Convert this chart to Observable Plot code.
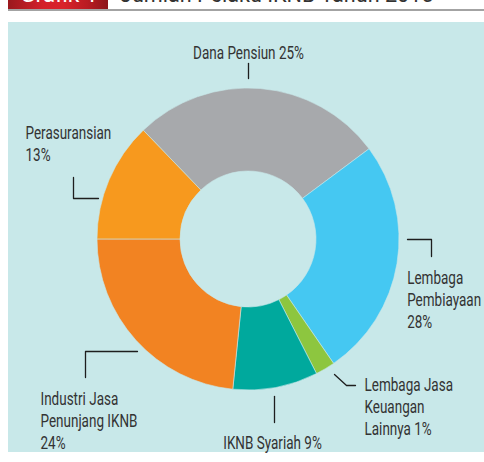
<!DOCTYPE html>
<html><head><meta charset="utf-8">
<script src="https://cdn.jsdelivr.net/npm/d3@7"></script>
<script src="https://cdn.jsdelivr.net/npm/@observablehq/plot@0.6"></script>
<style>
html,body{margin:0;padding:0;background:#fff;}
body{width:484px;height:462px;overflow:hidden;font-family:Roboto,"Noto Sans",sans-serif;position:relative;}
#head{position:relative;height:22px;overflow:hidden;}
#tag{position:absolute;left:8px;top:0;width:100px;height:9px;overflow:hidden;
  background:linear-gradient(90deg,#9a181d 0%,#d4202a 35%,#d9232b 55%,#b81c23 80%,#8c151a 100%);}
#tag span{position:absolute;left:12px;top:-18px;color:#fff;font-size:24px;line-height:24px;white-space:nowrap;display:inline-block;transform:scaleX(0.95);transform-origin:left;}
#title{position:absolute;left:120px;top:-18px;color:#333;font-size:24px;line-height:24px;white-space:nowrap;display:inline-block;transform:scaleX(0.9);transform-origin:left;}
#rule{position:absolute;left:8px;right:0;top:9px;height:1.5px;background:#a3a3a3;}
#chart{position:absolute;left:8px;top:22px;}
</style></head>
<body>
<div id="head"><div id="tag"><span>Grafik 1</span></div><div id="title">Jumlah Pelaku IKNB Tahun 2015</div><div id="rule"></div></div>
<div id="chart"></div>
<script>
// ---- data ----
const categories = ["Dana Pensiun","Lembaga Pembiayaan","Lembaga Jasa Keuangan Lainnya","IKNB Syariah","Industri Jasa Penunjang IKNB","Perasuransian"];
// slice sizes as drawn in the picture (share of the ring, %)
const shares = [27.0, 25.6, 2.1, 9.1, 23.4, 12.8];
// percentages printed in the labels
const labelPercents = ["25%","28%","1%","9%","24%","13%"];
const labelTexts = ["Dana Pensiun 25%","Lembaga\nPembiayaan\n28%","Lembaga Jasa\nKeuangan\nLainnya 1%","IKNB Syariah 9%","Industri Jasa\nPenunjang IKNB\n24%","Perasuransian\n13%"];
const sliceColors = ["#a7a9ac","#45c8f2","#8dc63f","#00a99d","#f28322","#f7991e"];

// ---- layout (pixel units relative to the ring centre) ----
const bg = "#c8e8e9";
const outerR = 151, innerR = 68;
const startDeg = -43.9;
const labelLayout = [
  {x:0, y:-196, anchor:"middle"},
  {x:158.7, y:29, anchor:"start"},
  {x:116, y:136, anchor:"start"},
  {x:24, y:194, anchor:"middle"},
  {x:-208, y:150, anchor:"start"},
  {x:-223, y:-116, anchor:"start"}
];
const leaderLayout = [
  [[0,-176],[0,-161]],
  [[159,0],[183,0],[183,17]],
  [[86,135],[98,146],[107,146]],
  [[26,157],[26,183]],
  [[-163,138],[-163,112],[-111,112]],
  [[-175,-62],[-175,-41],[-150,-41]]
];

const color = Plot.scale({color:{type:"ordinal", domain:categories, range:sliceColors}});
const rows = categories.map((c,i)=>({category:c, share:shares[i], percent:labelPercents[i], label:labelTexts[i], ...labelLayout[i]}));
const leaderRows = leaderLayout.flatMap((pts,i)=>pts.map(([x,y])=>({category:categories[i], x, y})));

function donut(index, scales) {
  const cx = scales.x(0), cy = scales.y(0);
  const R = scales.x(outerR) - cx, r0 = scales.x(innerR) - cx;
  const a0 = startDeg * Math.PI/180;
  const pie = d3.pie().sort(null).value(d=>d.share).startAngle(a0).endAngle(a0 + 2*Math.PI);
  const arc = d3.arc().innerRadius(r0).outerRadius(R);
  const g = d3.create("svg:g").attr("transform", `translate(${cx},${cy})`);
  g.selectAll("path").data(pie(rows)).join("path")
    .attr("d", arc)
    .attr("fill", d=>color.apply(d.data.category))
    .attr("stroke", bg).attr("stroke-width", 0.6);
  return g.node();
}

const textOpts = {x:"x", y:"y", text:"label", lineAnchor:"top", lineHeight:1.22, fontSize:18, fontFamily:"Roboto", fill:"#333"};

const chart = Plot.plot({
  width:476, height:430, margin:0,
  x:{domain:[-240,236], range:[0,476], axis:null},
  y:{domain:[-217,213], range:[0,430], axis:null},
  style:{background:bg, overflow:"visible"},
  marks:[
    donut,
    Plot.line(leaderRows, {x:"x", y:"y", z:"category", stroke:"#1e1e1e", strokeWidth:1.3}),
    Plot.text(rows.filter(d=>d.anchor==="middle"), {...textOpts, textAnchor:"middle"}),
    Plot.text(rows.filter(d=>d.anchor==="start"), {...textOpts, textAnchor:"start"})
  ]
});
chart.querySelectorAll('g[aria-label="text"] text').forEach(t=>{
  t.setAttribute("transform", (t.getAttribute("transform")||"") + " scale(0.75,1)");
});
document.getElementById("chart").appendChild(chart);
</script>
</body></html>
